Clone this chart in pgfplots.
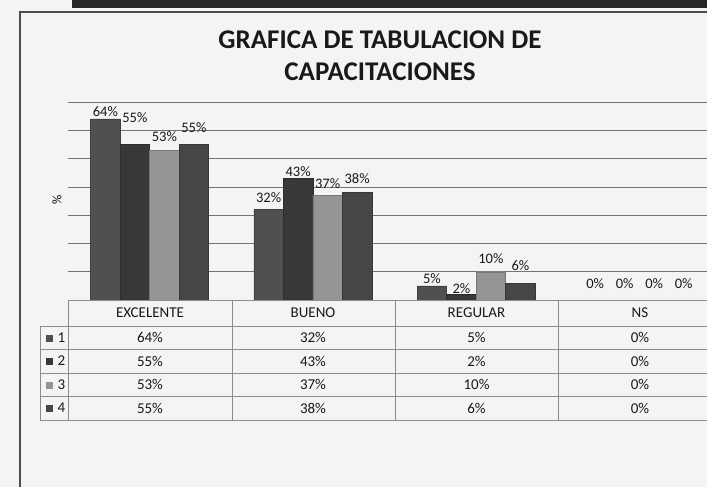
\documentclass[border=0pt]{standalone}
\usepackage{pgfplots}
\pgfplotsset{compat=1.18}
\usepackage{pgfplotstable}
\usepackage{fontspec}
\setmainfont{Carlito}
\definecolor{sA}{HTML}{505050}
\definecolor{sB}{HTML}{383838}
\definecolor{sC}{HTML}{959595}
\definecolor{sD}{HTML}{464646}
\definecolor{bgc}{HTML}{F4F4F4}
\definecolor{tline}{HTML}{8C8C8C}
% values and label offsets (pt above bar top)
\pgfplotstableread{
x s1 s2 s3 s4 o1 o2 o3 o4
0 64 55 53 55 1 21 7 11
1 32 43 37 38 6 1 6 8
2 5 2 10 6 1 0 7 11
3 0 0 0 0 10 10 10 10
}\datatab
\begin{document}
\begin{tikzpicture}
\path[use as bounding box] (0,0) rectangle (707pt,-487pt);
\clip (0,0) rectangle (707pt,-487pt);
\fill[bgc] (0,0) rectangle (707pt,-487pt);
\fill[black!85] (72pt,0) rectangle (707pt,-8pt);
\draw[black!70, line width=1.2pt] (20pt,-487pt) -- (20pt,-12pt) -- (707pt,-12pt);
\node[font=\fontsize{27}{32}\selectfont\bfseries, align=center, text=black!90] at (380pt,-56pt) {GRAFICA DE TABULACION DE\\CAPACITACIONES};
\node[rotate=90, font=\fontsize{13}{14}\selectfont] at (57pt,-200pt) {\%};
\begin{axis}[
  at={(68pt,-300pt)}, anchor=south west,
  scale only axis, width=653pt, height=198pt,
  xmin=-0.5, xmax=3.5, ymin=0, ymax=70,
  ytick={10,20,...,70}, yticklabels={},
  xtick=\empty,
  ymajorgrids, grid style={black!55, line width=0.6pt},
  axis line style={draw=none}, major tick style={draw=none},
  ybar=0pt, bar width=29.5pt,
  clip=false,
  /pgf/number format/assume math mode=true,
  nodes near coords={\pgfmathprintnumber{\pgfplotspointmeta}\%},
  nodes near coords style={font=\fontsize{14.5}{15}\selectfont, text=black!90, inner sep=1pt, anchor=south, yshift=\off pt},
]
\addplot[fill=sA, draw=sA!80!black, visualization depends on={\thisrow{o1} \as \off}] table[x=x, y=s1] {\datatab};
\addplot[fill=sB, draw=sB!80!black, visualization depends on={\thisrow{o2} \as \off}] table[x=x, y=s2] {\datatab};
\addplot[fill=sC, draw=sC!80!black, visualization depends on={\thisrow{o3} \as \off}] table[x=x, y=s3] {\datatab};
\addplot[fill=sD, draw=sD!80!black, visualization depends on={\thisrow{o4} \as \off}] table[x=x, y=s4] {\datatab};
\end{axis}
% data table
\begin{scope}[tline, line width=0.8pt]
\draw (68pt,-300pt) -- (707pt,-300pt);
\foreach \yy in {326,349,373,396,420} {\draw (40pt,-\yy pt) -- (707pt,-\yy pt);}
\foreach \xx in {68,232,395,558} {\draw (\xx pt,-300pt) -- (\xx pt,-420pt);}
\draw (40pt,-326pt) -- (40pt,-420pt);
\end{scope}
\begin{scope}[font=\fontsize{15}{17}\selectfont, text=black!90]
\node at (150pt,-313pt) {EXCELENTE};
\node at (313pt,-313pt) {BUENO};
\node at (476.5pt,-313pt) {REGULAR};
\node at (640pt,-313pt) {NS};
\node at (150pt,-337.5pt) {64\%};
\node at (313pt,-337.5pt) {32\%};
\node at (476.5pt,-337.5pt) {5\%};
\node at (640pt,-337.5pt) {0\%};
\node at (150pt,-361pt) {55\%};
\node at (313pt,-361pt) {43\%};
\node at (476.5pt,-361pt) {2\%};
\node at (640pt,-361pt) {0\%};
\node at (150pt,-384.5pt) {53\%};
\node at (313pt,-384.5pt) {37\%};
\node at (476.5pt,-384.5pt) {10\%};
\node at (640pt,-384.5pt) {0\%};
\node at (150pt,-408pt) {55\%};
\node at (313pt,-408pt) {38\%};
\node at (476.5pt,-408pt) {6\%};
\node at (640pt,-408pt) {0\%};
\fill[sA] (46pt,-334.5pt) rectangle (53pt,-341.5pt);
\fill[sB] (46pt,-358pt) rectangle (53pt,-365pt);
\fill[sC] (46pt,-381.5pt) rectangle (53pt,-388.5pt);
\fill[sD] (46pt,-405pt) rectangle (53pt,-412pt);
\node[anchor=west] at (54pt,-337.5pt) {1};
\node[anchor=west] at (54pt,-361pt) {2};
\node[anchor=west] at (54pt,-384.5pt) {3};
\node[anchor=west] at (54pt,-408pt) {4};
\end{scope}
\end{tikzpicture}
\end{document}
